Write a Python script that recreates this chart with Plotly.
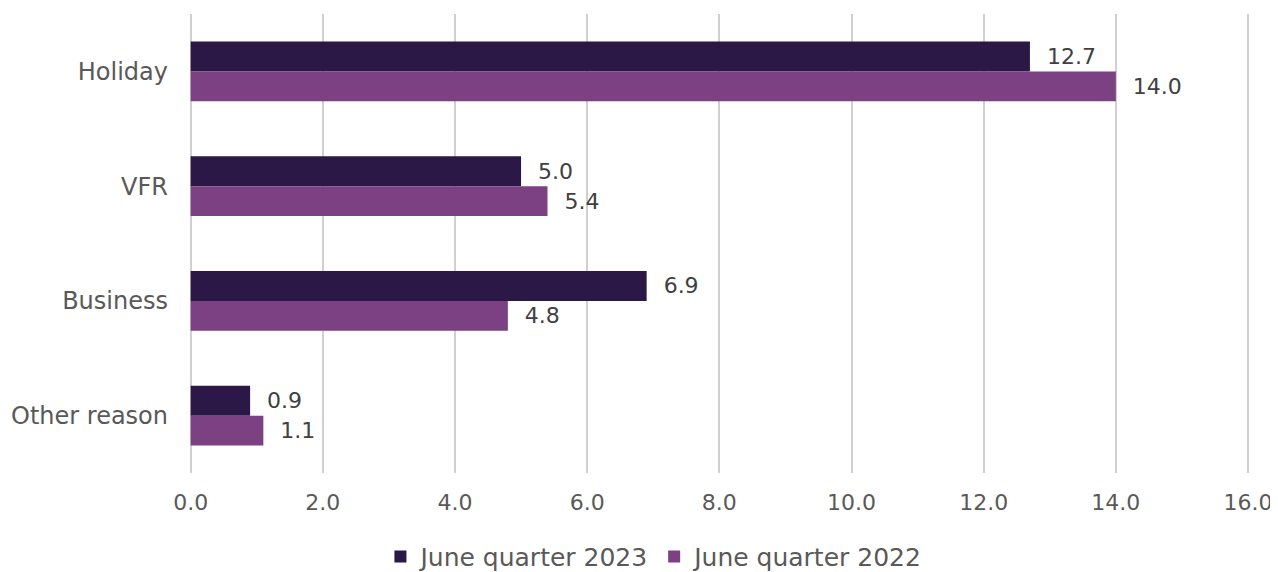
import plotly.graph_objects as go

categories = ["Holiday", "VFR", "Business", "Other reason"]
series_names = ["June quarter 2023", "June quarter 2022"]
values_2023 = [12.7, 5.0, 6.9, 0.9]
values_2022 = [14.0, 5.4, 4.8, 1.1]
tick_vals = [0, 2, 4, 6, 8, 10, 12, 14, 16]
tick_text = ["0.0", "2.0", "4.0", "6.0", "8.0", "10.0", "12.0", "14.0", "16.0"]

colors = ["#2B1846", "#7B4182"]
font_family = "DejaVu Sans, Verdana, sans-serif"
text_color = "#595959"
fs = 22

fig = go.Figure()
for name, vals, col in zip(series_names, [values_2023, values_2022], colors):
    fig.add_trace(go.Bar(
        y=categories, x=vals, name=name, orientation="h",
        marker=dict(color=col, line=dict(width=0)),
        text=[f"{v:.1f}" for v in vals],
        textposition="outside",
        texttemplate="  %{text}",
        textfont=dict(family=font_family, size=fs, color="#404040"),
        cliponaxis=False,
        hoverinfo="skip",
    ))

fig.update_layout(
    width=1270, height=564,
    margin=dict(l=180, r=28, t=6, b=99, autoexpand=False),
    paper_bgcolor="white", plot_bgcolor="white",
    barmode="group", bargap=0.48, bargroupgap=0,
    font=dict(family=font_family, size=fs, color=text_color),
    showlegend=True,
    legend=dict(orientation="h", xref="container", x=0.509, xanchor="center",
                yref="container", y=0.027, yanchor="middle",
                font=dict(family=font_family, size=25, color=text_color),
                traceorder="normal", itemwidth=30),
)
fig.update_xaxes(range=[-0.04, 16.03], tickvals=tick_vals, ticktext=tick_text,
                 showgrid=True, gridcolor="#D0D0D0", gridwidth=2,
                 zeroline=False, showline=False, ticks="",
                 ticklabelstandoff=14,
                 tickfont=dict(family=font_family, size=fs, color=text_color))
fig.update_yaxes(autorange="reversed", showgrid=False, showline=False, ticks="",
                 ticklabelstandoff=19,
                 tickfont=dict(family=font_family, size=24, color=text_color))

fig.write_html("out.html")
